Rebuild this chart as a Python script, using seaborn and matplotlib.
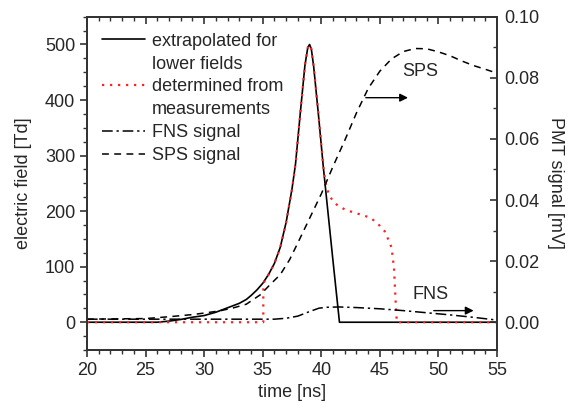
import numpy as np
import matplotlib
matplotlib.use("Agg")
import matplotlib.pyplot as plt
import seaborn as sns
from matplotlib.lines import Line2D
from matplotlib.ticker import MultipleLocator

# extrapolated field (solid black), left axis [Td]
t_ext = [20, 26, 27, 28, 29, 30, 31, 32, 33, 33.6, 34, 34.5, 35, 35.5, 36, 36.5, 37, 37.5, 37.8, 38.2, 38.6, 38.85, 39,
         39.15, 39.35, 39.75, 40.17, 40.5, 41, 41.55, 55]
e_ext = [0, 0, 2, 5, 9, 12, 18, 26, 34, 41, 48, 58, 70, 86, 106, 135, 180, 240, 285, 375, 462, 495, 500,
         492, 460, 375, 280, 212, 110, 0, 0]

# field determined from measurements (red dotted)
t_det = [20, 35.05, 35.05, 35.5, 36, 36.5, 37, 37.5, 37.8, 38.2, 38.6, 38.85, 39, 39.15, 39.35, 39.75, 40.17, 40.4,
         40.7, 41.0, 41.3, 42, 42.7, 43.5, 44.2, 44.8, 45.4, 45.8, 46.0, 46.2, 46.3, 46.4, 46.45, 55]
e_det = [0, 0, 70, 86, 106, 135, 180, 240, 285, 375, 462, 495, 500, 492, 460, 375, 280, 245,
         228, 218, 212, 203, 198, 193, 188, 178, 164, 145, 134, 98, 56, 14, 0, 0]

# PMT signals, right axis [mV]
t_sps = [20, 25, 27, 29, 30, 31.3, 32.5, 33.6, 34.8, 35.5, 36.5, 37.3, 38, 39, 40, 41, 42, 43, 44, 45, 46, 47, 48, 49,
         50, 51, 52, 53, 54, 55]
v_sps = [0.001, 0.0012, 0.0018, 0.0025, 0.003, 0.0037, 0.0047, 0.0059, 0.009, 0.0118, 0.0156, 0.0205, 0.026, 0.034, 0.042,
         0.051, 0.0595, 0.0685, 0.0765, 0.0822, 0.0862, 0.0886, 0.0896, 0.0895, 0.0885, 0.0872, 0.0855, 0.0840, 0.0828, 0.0815]

t_fns = [20, 36, 37, 38, 39, 39.8, 40.5, 41.5, 43, 45, 47, 49, 51, 53, 55]
v_fns = [0.001, 0.001, 0.0013, 0.002, 0.0035, 0.0046, 0.0049, 0.005, 0.0048, 0.0044, 0.0038, 0.0031, 0.0024, 0.0016, 0.0007]

sns.set_style("ticks")
plt.rcParams['font.family'] = ['Liberation Sans', 'DejaVu Sans']
plt.rcParams['font.size'] = 13

fig = plt.figure(figsize=(5.72, 4.03), dpi=100)
ax = fig.add_axes([0.152, 0.1315, 0.717, 0.827])
ax2 = ax.twinx()

ls_dash = (0, (4.5, 3.5))
ls_dashdot = (0, (7, 2.5, 1.5, 2.5))
ls_dot = (0, (1, 2.6))

sns.lineplot(x=t_ext, y=e_ext, ax=ax, color="black", lw=1.2, estimator=None, sort=False)
sns.lineplot(x=t_det, y=e_det, ax=ax, color="#ff2020", lw=1.6, linestyle=ls_dot, estimator=None, sort=False)
sns.lineplot(x=t_sps, y=v_sps, ax=ax2, color="black", lw=1.1, linestyle=ls_dash, estimator=None, sort=False)
sns.lineplot(x=t_fns, y=v_fns, ax=ax2, color="black", lw=1.1, linestyle=ls_dashdot, estimator=None, sort=False)

ax.set_xlim(20, 55)
ax.set_ylim(-50, 550)
ax2.set_ylim(-0.1 / 11, 0.1)
ax.set_xticks(np.arange(20, 56, 5))
ax.set_yticks(np.arange(0, 501, 100))
ax2.set_yticks(np.arange(0, 0.101, 0.02))
ax2.set_yticklabels([f"{v:.2f}" for v in np.arange(0, 0.101, 0.02)])
ax.xaxis.set_minor_locator(MultipleLocator(1))
ax.yaxis.set_minor_locator(MultipleLocator(25))
ax2.yaxis.set_minor_locator(MultipleLocator(0.01))

ax.set_xlabel("time [ns]")
ax.set_ylabel("electric field [Td]", labelpad=9)
ax2.set_ylabel("PMT signal [mV]", rotation=270, labelpad=18)

for a in (ax, ax2):
    for s in a.spines.values():
        s.set_linewidth(1.3)
        s.set_color("#333333")
        s.set_visible(True)

ax.tick_params(axis="both", which="both", direction="out", top=True, right=False, labelsize=13, color="#333333")
ax.tick_params(which="major", length=5, width=1.2)
ax.tick_params(which="minor", length=3, width=1.0)
# top ticks point inward
for tk in ax.xaxis.get_major_ticks() + ax.xaxis.get_minor_ticks():
    tk.tick2line.set_marker(3)
ax2.tick_params(axis="y", which="both", direction="in", labelsize=13, color="#333333")
ax2.tick_params(which="major", length=5, width=1.2)
ax2.tick_params(which="minor", length=3, width=1.0)
ax2.yaxis.set_tick_params(pad=5)

ax2.annotate("", xy=(47.4, 0.0735), xytext=(43.8, 0.0735),
             arrowprops=dict(arrowstyle="-|>", color="black", lw=1.0, mutation_scale=12, shrinkA=0, shrinkB=0))
ax2.text(48.4, 0.082, "SPS", ha="center", va="center", fontsize=13)
ax2.annotate("", xy=(53.0, 0.0038), xytext=(49.6, 0.0038),
             arrowprops=dict(arrowstyle="-|>", color="black", lw=1.0, mutation_scale=12, shrinkA=0, shrinkB=0))
ax2.text(49.3, 0.0092, "FNS", ha="center", va="center", fontsize=13)

blank = Line2D([], [], color="none")
handles = [
    Line2D([], [], color="black", lw=1.2),
    blank,
    Line2D([], [], color="#ff2020", lw=1.6, linestyle=ls_dot),
    blank,
    Line2D([], [], color="black", lw=1.1, linestyle=ls_dashdot),
    Line2D([], [], color="black", lw=1.1, linestyle=ls_dash),
]
labels = ["extrapolated for", "lower fields", "determined from", "measurements", "FNS signal", "SPS signal"]
ax2.legend(handles, labels, loc="upper left", bbox_to_anchor=(0.01, 0.985), frameon=False,
           handlelength=2.4, handletextpad=0.35, labelspacing=0.33, fontsize=13, borderaxespad=0.2)

fig.savefig("out.png", dpi=100)
